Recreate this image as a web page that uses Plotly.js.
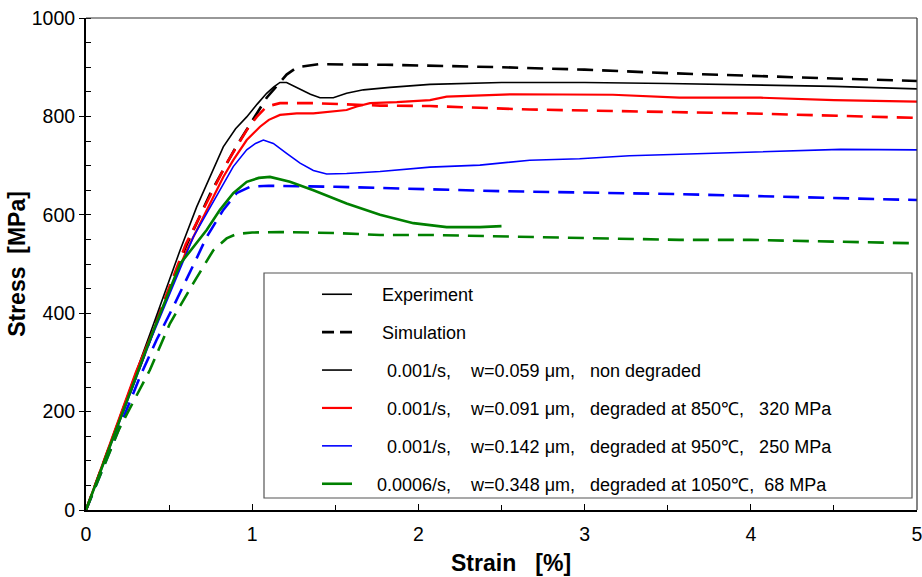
<!DOCTYPE html>
<html>
<head>
<meta charset="utf-8">
<script src="https://cdn.plot.ly/plotly-3.0.1.min.js"></script>
<style>html,body{margin:0;padding:0;background:#fff;}#chart{width:922px;height:577px;}</style>
</head>
<body>
<div id="chart"></div>
<script>
// ---- Data (strain in %, stress in MPa) ----
const expNonDegStrain = [0,0.2,0.4,0.566,0.666,0.75,0.826,0.9,0.967,1.03,1.087,1.13,1.167,1.207,1.25,1.3,1.35,1.408,1.488,1.568,1.669,1.829,2.07,2.5,3.0,3.5,4.0,4.5,5.0];
const expNonDegStress = [0,185,372,528,616,680,738,775,799,825,847,860,869,869,862,853,845,838,838,847,854,859,865,869,869,867,864,861,856];

const simNonDegStrain = [0,0.3,0.6,0.75,0.906,1.0,1.087,1.207,1.27,1.4,1.8,2.5,3.0,3.5,4.0,4.5,5.0];
const simNonDegStress = [0,270,535,645,740,790,838,885,900,906,905,900,895,888,882,877,872];

const exp850Strain = [0,0.3,0.606,0.706,0.766,0.826,0.886,0.967,1.047,1.1,1.167,1.268,1.368,1.468,1.568,1.629,1.709,1.87,2.07,2.17,2.57,3.17,3.57,4.06,4.5,5.0];
const exp850Stress = [0,280,528,596,637,677,711,752,779,793,803,806,806,810,813,820,827,829,833,840,845,844,838,838,833,830];

const sim850Strain = [0,0.3,0.6,0.846,0.906,0.967,1.027,1.087,1.167,1.368,1.769,2.07,2.67,3.57,4.0,5.0];
const sim850Stress = [0,275,540,705,738,772,799,820,827,827,822,821,814,808,806,797];

const exp950Strain = [0,0.2,0.4,0.646,0.726,0.806,0.886,0.967,1.02,1.067,1.127,1.207,1.288,1.368,1.448,1.568,1.769,2.07,2.37,2.67,2.97,3.27,3.57,4.0,4.54,5.0];
const exp950Stress = [0,178,355,555,603,650,698,732,745,752,745,725,705,690,683,684,688,697,701,711,714,720,723,728,733,732];

const sim950Strain = [0,0.325,0.425,0.525,0.666,0.726,0.826,0.906,0.987,1.1,1.5,2.07,2.5,3.57,4.0,5.0];
const sim950Stress = [0,271,346,413,512,555,610,644,657,659,657,652,648,642,638,630];

const exp1050Strain = [0,0.2,0.4,0.566,0.646,0.726,0.806,0.886,0.967,1.04,1.107,1.227,1.368,1.568,1.769,1.97,2.17,2.37,2.5];
const exp1050Stress = [0,180,360,500,535,569,610,644,667,675,677,667,650,623,600,583,575,575,577];

const sim1050Strain = [0,0.2,0.385,0.505,0.646,0.766,0.846,0.906,1.0,1.167,1.5,1.769,2.07,2.5,3.0,3.57,4.0,4.5,5.0];
const sim1050Stress = [0,165,285,379,461,528,552,561,564,565,563,559,559,556,553,549,549,545,542];

const seriesLabels = [
  "\u00a0\u00a0\u00a0\u00a0\u00a0\u00a00.001/s,\u00a0\u00a0\u00a0\u00a0w=0.059 \u03bcm,\u00a0\u00a0\u00a0non degraded",
  "\u00a0\u00a0\u00a0\u00a0\u00a0\u00a00.001/s,\u00a0\u00a0\u00a0\u00a0w=0.091 \u03bcm,\u00a0\u00a0\u00a0degraded at 850\u2103,\u00a0\u00a0\u00a0320 MPa",
  "\u00a0\u00a0\u00a0\u00a0\u00a0\u00a00.001/s,\u00a0\u00a0\u00a0\u00a0w=0.142 \u03bcm,\u00a0\u00a0\u00a0degraded at 950\u2103,\u00a0\u00a0\u00a0250 MPa",
  "\u00a0\u00a0\u00a0\u00a00.0006/s,\u00a0\u00a0\u00a0\u00a0w=0.348 \u03bcm,\u00a0\u00a0\u00a0degraded at 1050\u2103,\u00a0\u00a068 MPa"
];
const styleLabels = ["\u00a0\u00a0\u00a0\u00a0\u00a0Experiment", "\u00a0\u00a0\u00a0\u00a0\u00a0Simulation"];
const colors = ["#000000", "#ff0000", "#0000ff", "#008000"];
const expWidths = [1.6, 2.2, 1.6, 2.6];

const expX = [expNonDegStrain, exp850Strain, exp950Strain, exp1050Strain];
const expY = [expNonDegStress, exp850Stress, exp950Stress, exp1050Stress];
const simX = [simNonDegStrain, sim850Strain, sim950Strain, sim1050Strain];
const simY = [simNonDegStress, sim850Stress, sim950Stress, sim1050Stress];

const dashStyle = "16px,9px";
const traces = [];
// legend-only style entries
traces.push({x:[null], y:[null], mode:'lines', name:styleLabels[0], line:{color:'#000', width:1.6}, legendgroup:'a', legendrank:1, hoverinfo:'skip'});
traces.push({x:[null], y:[null], mode:'lines', name:styleLabels[1], line:{color:'#000', width:2.8, dash:'12px,6px'}, legendgroup:'b', legendrank:2, hoverinfo:'skip'});
for (let i = 0; i < 4; i++) {
  traces.push({x: simX[i], y: simY[i], mode:'lines', showlegend:false, line:{color:colors[i], width:2.6, dash:dashStyle}});
}
for (let i = 0; i < 4; i++) {
  traces.push({x: expX[i], y: expY[i], mode:'lines', name: seriesLabels[i], legendgroup:'s'+i, legendrank:3+i, line:{color:colors[i], width:expWidths[i]}});
}

const fontFam = '"Liberation Sans", Arial, Helvetica, sans-serif';
const layout = {
  width: 922, height: 577,
  margin: {l: 86, r: 5, t: 18, b: 67},
  paper_bgcolor: '#fff', plot_bgcolor: '#fff',
  font: {family: fontFam, color: '#000'},
  showlegend: true,
  legend: {x: 0.278, xanchor: 'left', y: 0.4755, yanchor: 'top', font: {size: 18, family: fontFam},
           bgcolor: 'rgba(0,0,0,0)', borderwidth: 0, tracegroupgap: 11.5, traceorder: 'grouped'},
  xaxis: {
    range: [0, 5], dtick: 1, tick0: 0, showgrid: false, zeroline: false,
    showline: true, linecolor: '#000', linewidth: 2,
    ticks: 'inside', ticklen: 6, tickwidth: 1, tickcolor: '#000',
    minor: {dtick: 0.5, ticks: 'inside', ticklen: 5, tickcolor: '#000', showgrid: false},
    tickfont: {size: 19.5}, ticklabelstandoff: 6, ticklabeloverflow: 'allow',
    title: {text: '<b>\u00a0\u00a0\u00a0Strain   [%]</b>', font: {size: 23}, standoff: 10}
  },
  yaxis: {
    range: [0, 1000], dtick: 200, tick0: 0, showgrid: false, zeroline: false,
    showline: true, linecolor: '#000', linewidth: 2,
    ticks: 'outside', ticklen: 5, tickwidth: 1, tickcolor: '#000',
    minor: {dtick: 50, ticks: 'inside', ticklen: 5, tickcolor: '#000', showgrid: false},
    tickfont: {size: 19.5}, ticklabeloverflow: 'allow',
    title: {text: '<b>Stress  [MPa]</b>', font: {size: 23}, standoff: 0}
  },
  shapes: [
    {type:'line', xref:'paper', yref:'paper', x0:0, x1:1, y0:1, y1:1, line:{color:'#333', width:1.2}},
    {type:'line', xref:'paper', yref:'paper', x0:1, x1:1, y0:0, y1:1, line:{color:'#333', width:1.2}},
    {type:'rect', xref:'paper', yref:'paper', x0:0.2142, x1:0.994, y0:0.0244, y1:0.4817,
     line:{color:'#555', width:1.2}, fillcolor:'#fff', layer:'below'}
  ]
};
Plotly.newPlot('chart', traces, layout, {displayModeBar: false, staticPlot: true});
</script>
</body>
</html>
